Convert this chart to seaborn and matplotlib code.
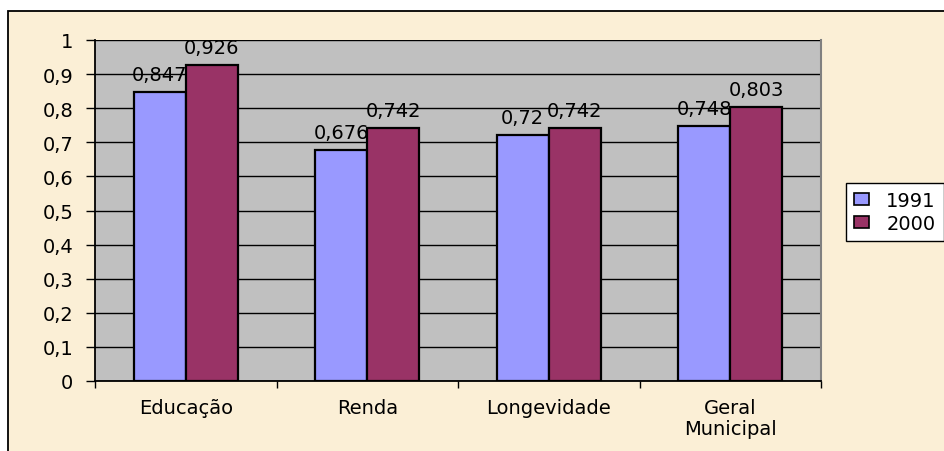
import matplotlib
matplotlib.use("Agg")
import matplotlib.pyplot as plt
import seaborn as sns
import pandas as pd
from matplotlib.patches import Rectangle, Patch

categories = ["Educação", "Renda", "Longevidade", "Geral\nMunicipal"]
years = ["1991", "2000"]
values_1991 = [0.847, 0.676, 0.72, 0.748]
values_2000 = [0.926, 0.742, 0.742, 0.803]
labels_1991 = ["0,847", "0,676", "0,72", "0,748"]
labels_2000 = ["0,926", "0,742", "0,742", "0,803"]
yticks = [0, 0.1, 0.2, 0.3, 0.4, 0.5, 0.6, 0.7, 0.8, 0.9, 1.0]
ytick_labels = ["0", "0,1", "0,2", "0,3", "0,4", "0,5", "0,6", "0,7", "0,8", "0,9", "1"]
colors = ["#9999FF", "#993366"]

df = pd.DataFrame({
    "cat": categories * 2,
    "year": [years[0]] * len(categories) + [years[1]] * len(categories),
    "val": values_1991 + values_2000,
})

sns.set_theme(style="white")
plt.rcParams["font.family"] = ["DejaVu Sans"]
plt.rcParams["text.color"] = "black"
plt.rcParams["xtick.color"] = "black"
plt.rcParams["ytick.color"] = "black"
FS = 14

W, H = 944, 452
fig = plt.figure(figsize=(W / 100, H / 100), dpi=100, facecolor="white")
bg = Rectangle((8 / W, -0.1), 1.2, (1 - 12 / H) + 0.1, transform=fig.transFigure,
               facecolor="#FBEFD6", edgecolor="black", linewidth=1.3, zorder=-10)
fig.patches.append(bg)

ax = fig.add_axes([95 / W, 1 - 382 / H, (821 - 95) / W, (382 - 41) / H])
ax.set_zorder(2)
ax.set_facecolor("#C0C0C0")
ax.set_axisbelow(True)
ax.yaxis.grid(True, color="black", linewidth=1)
ax.xaxis.grid(False)

sns.barplot(data=df, x="cat", y="val", hue="year", hue_order=years, order=categories,
            palette=colors, width=0.575, edgecolor="black", linewidth=1.6,
            saturation=1, ax=ax, legend=False, errorbar=None)

ax.bar_label(ax.containers[0], labels=labels_1991, padding=6.0, fontsize=FS, color="black")
ax.bar_label(ax.containers[1], labels=labels_2000, padding=6.0, fontsize=FS, color="black")

ax.set_xlim(-0.5, 3.5)
ax.set_ylim(0, 1)
ax.set_yticks(yticks)
ax.set_yticklabels(ytick_labels, fontsize=FS, color="black")
ax.set_xticks(range(len(categories)))
ax.set_xticklabels(categories, fontsize=FS, color="black", linespacing=1.15)
ax.set_xticks([i - 0.5 for i in range(len(categories) + 1)], minor=True)
ax.tick_params(axis="y", which="major", direction="out", length=6.5, width=1,
               color="black", pad=9, left=True)
ax.tick_params(axis="x", which="major", length=0, pad=12, bottom=True)
ax.tick_params(axis="x", which="minor", direction="out", length=5, width=1,
               color="black", bottom=True)
ax.set_xlabel("")
ax.set_ylabel("")

for side in ["left", "bottom"]:
    ax.spines[side].set_color("black")
    ax.spines[side].set_linewidth(1.3)
ax.spines["top"].set_visible(False)
ax.spines["right"].set_color("#808080")
ax.spines["right"].set_linewidth(1.5)

handles = [Patch(facecolor=c, edgecolor="black", linewidth=1.2) for c in colors]
leg = fig.legend(handles, years, loc="upper left", bbox_to_anchor=(846 / W, 1 - 184 / H),
                 bbox_transform=fig.transFigure, frameon=True, fancybox=False,
                 fontsize=FS, borderpad=0.42, handlelength=0.75, handleheight=0.55,
                 handletextpad=0.9, labelspacing=0.2, borderaxespad=0)
leg.get_frame().set_edgecolor("black")
leg.get_frame().set_linewidth(1)
leg.get_frame().set_facecolor("white")
leg.get_frame().set_alpha(1)
for t in leg.get_texts():
    t.set_color("black")

fig.savefig("out.png", dpi=100, facecolor=fig.get_facecolor())
